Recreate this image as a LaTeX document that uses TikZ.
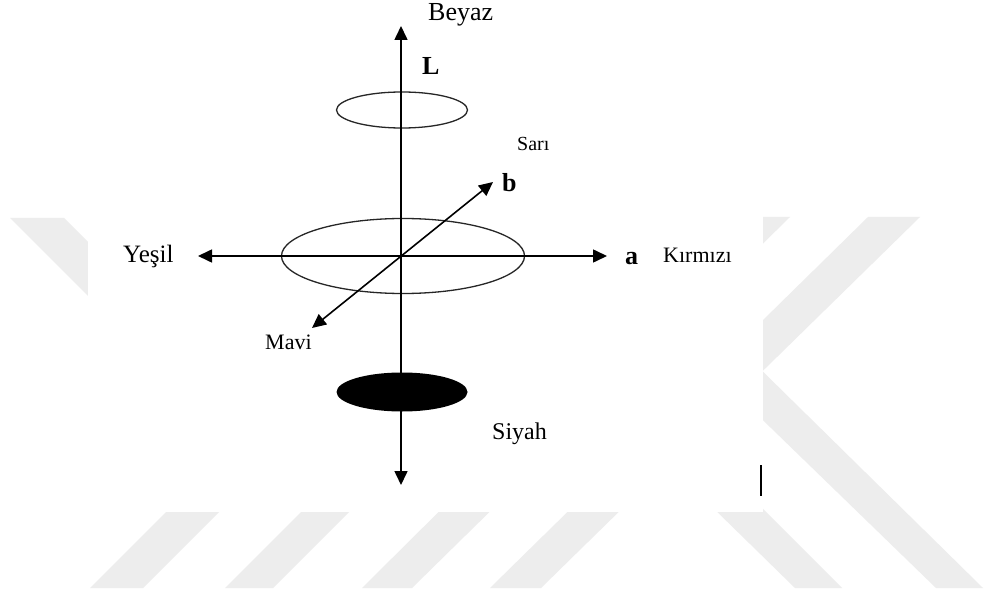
\documentclass[tikz,border=0pt]{standalone}
\usepackage{fontspec}
\setmainfont{Liberation Serif}
\usetikzlibrary{arrows.meta,shapes.geometric}
\definecolor{wm}{HTML}{EDEDED}
\tikzset{
  axis/.style={line width=1.6pt, {Triangle[length=14pt,width=13pt]}-{Triangle[length=14pt,width=13pt]}},
  ring/.style={ellipse, draw, line width=1.3pt, inner sep=0pt, draw=black!85},
  txt/.style={font=\fontsize{#1}{#1}\selectfont, inner sep=0pt, anchor=base west},
  btxt/.style={font=\fontsize{#1}{#1}\selectfont\bfseries, inner sep=0pt, anchor=base west},
  stripe/.style={fill=wm, draw=none}
}
\begin{document}
\begin{tikzpicture}[x=1pt,y=-1pt]
\useasboundingbox (0,0) rectangle (984,593);
\fill[white] (0,0) rectangle (984,593);
% watermark stripes
\path[stripe] (10,218) -- (64,218) -- (264,418) -- (210,418) -- cycle;
\path[stripe] (736,217) -- (790,217) -- (412,588) -- (362,588) -- cycle;
\path[stripe] (868,217) -- (920,217) -- (541,588) -- (490,588) -- cycle;
\path[stripe] (178,500) -- (231,500) -- (143,588) -- (90,588) -- cycle;
\path[stripe] (313,500) -- (361,500) -- (273,588) -- (225,588) -- cycle;
\path[stripe] (705,500) -- (754,500) -- (842,588) -- (795,588) -- cycle;
\path[stripe] (690,300) -- (983,588) -- (936,588) -- (639,300) -- cycle;
% white panel
\fill[white] (88,0) rectangle (763,512);
% ellipses
\node[ring, minimum width=131pt, minimum height=36pt] (top) at (402,110) {};
\node[ring, minimum width=243pt, minimum height=75pt] (mid) at (403,256) {};
\node[ellipse, fill=black, inner sep=0pt, minimum width=131pt, minimum height=39pt] (blk) at (402,392) {};
% axes
\coordinate (O) at (401,256);
\coordinate (Ltop) at (401,26);
\coordinate (Lbot) at (401,485);
\coordinate (aL) at (198,256);
\coordinate (aR) at (607,256);
\coordinate (bT) at (493,182);
\coordinate (bB) at (312,328);
\draw[axis] (Lbot) -- (Ltop);
\draw[axis] (aL) -- (aR);
\draw[axis] (bB) -- (bT);
% labels
\node[txt=26] (beyaz) at (428,21) {Beyaz};
\node[btxt=26] (L) at (422,75) {L};
\node[txt=20] (sari) at (517,151) {Sarı};
\node[btxt=26] (b) at (502,192) {b};
\node[txt=25] (yesil) at (123,263) {Yeşil};
\node[btxt=26] (a) at (625,265) {a};
\node[txt=22] (kirmizi) at (663,263) {Kırmızı};
\node[txt=22] (mavi) at (265,349) {Mavi};
\node[txt=24] (siyah) at (492,439) {Siyah};
% stray mark
\coordinate (m1) at (761,465);
\coordinate (m2) at (761,496);
\draw[line width=2pt] (m1) -- (m2);
\end{tikzpicture}
\end{document}
